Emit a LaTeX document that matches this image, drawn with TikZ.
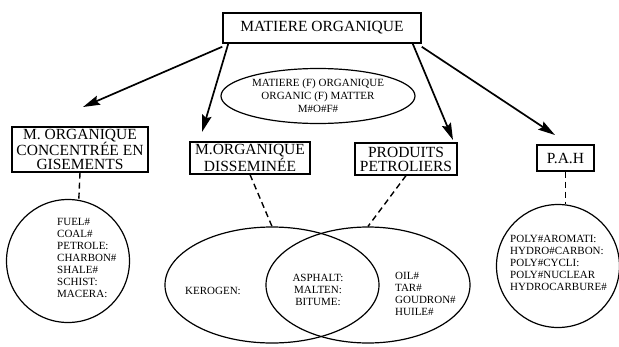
\documentclass[tikz,border=0pt]{standalone}
\usepackage{fontspec}
\setmainfont{Liberation Serif}
\usetikzlibrary{arrows.meta,shapes.geometric}
\tikzset{
  boxnode/.style={draw,line width=1.2pt,rectangle,inner sep=0pt,align=center,
     font=\fontsize{15.5}{14}\selectfont},
  ovalnode/.style={draw,line width=1.2pt,ellipse,inner sep=0pt},
  listtext/.style={inner sep=0pt,font=\fontsize{11}{12}\selectfont},
  arr/.style={line width=1.7pt,-{Stealth[length=17pt,width=9.5pt,inset=2.5pt]}},
  dashconn/.style={line width=1.4pt,dash pattern=on 6pt off 4pt}
}
\begin{document}
\begin{tikzpicture}[x=1pt,y=-1pt]
\useasboundingbox (0,0) rectangle (619,346);
% boxes
\node[boxnode,line width=1.5pt,minimum width=198pt,minimum height=30pt] (top) at (322,28) {MATIERE ORGANIQUE};
\node[boxnode,minimum width=136pt,minimum height=45pt] (conc) at (80,149.5) {M. ORGANIQUE\\CONCENTRÉE EN\\GISEMENTS};
\node[boxnode,minimum width=120pt,minimum height=32pt] (diss) at (250,158) {M.ORGANIQUE\\DISSEMINÉE};
\node[boxnode,minimum width=102pt,minimum height=32pt] (prod) at (406,159) {PRODUITS\\PETROLIERS};
\node[boxnode,minimum width=57pt,minimum height=26pt] (pah) at (565.5,158) {P.A.H};
% top ellipse
\node[ovalnode,minimum width=194pt,minimum height=55pt,align=center,
  font=\fontsize{11}{13}\selectfont] (mof) at (318,96) {MATIERE (F) ORGANIQUE\\ORGANIC (F) MATTER\\M\#O\#F\#};
% arrow tips
\coordinate (t1) at (83,107);
\coordinate (t2) at (202,132);
\coordinate (t3) at (453,140);
\coordinate (t4) at (555,135);
\draw[arr] ([yshift=-3pt]top.south west) -- (t1);
\draw[arr] ([xshift=6pt]top.south west) -- (t2);
\draw[arr] ([xshift=-9pt]top.south east) -- (t3);
\draw[arr] ([yshift=-3pt]top.south east) -- (t4);
% circles
\node[draw,line width=1.2pt,circle,minimum size=123pt,inner sep=0pt] (fuelc) at (68,261) {};
\node[listtext,anchor=west,align=left] (fuelt) at (57,258) {FUEL\#\\COAL\#\\PETROLE:\\CHARBON\#\\SHALE\#\\SCHIST:\\MACERA:};
\node[draw,line width=1.2pt,circle,minimum size=123pt,inner sep=0pt] (pahc) at (558,266) {};
\node[listtext,anchor=west,align=left] (paht) at (510,263) {POLY\#AROMATI:\\HYDRO\#CARBON:\\POLY\#CYCLI:\\POLY\#NUCLEAR\\HYDROCARBURE\#};
% venn
\node[ovalnode,minimum width=214pt,minimum height=116pt] (leftv) at (272,285) {};
\node[ovalnode,minimum width=204pt,minimum height=116pt] (rightv) at (368,285) {};
\node[listtext] (kero) at (213,291) {KEROGEN:};
\node[listtext,align=center] (asph) at (318,290) {ASPHALT:\\MALTEN:\\BITUME:};
\node[listtext,anchor=west,align=left] (oil) at (395,294) {OIL\#\\TAR\#\\GOUDRON\#\\HUILE\#};
% dashed connectors
\draw[dashconn] (conc.south) -- (fuelc.80);
\draw[dashconn] (diss.south) -- (leftv.north);
\draw[dashconn] (prod.south) -- (rightv.north);
\draw[dashconn] (pah.south) -- (pah.south |- pahc.north);
\end{tikzpicture}
\end{document}
